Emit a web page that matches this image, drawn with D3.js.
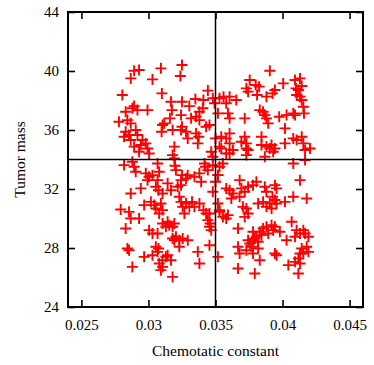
<!DOCTYPE html>
<html>
<head>
<meta charset="utf-8">
<script src="https://cdn.jsdelivr.net/npm/d3@7"></script>
<style>
  body { margin: 0; background: #fff; }
  svg text { font-family: "Liberation Serif", "Times New Roman", serif; fill: #000; }
</style>
</head>
<body>
<div id="chart"></div>
<script>
// chemotactic constant and tumor mass of each run
const chemotaxis = [
  0.02893,0.02930,0.02868,0.03093,0.03030,0.03250,0.03238,0.02805,0.03100,0.03168,
  0.03250,0.03350,0.03443,0.03410,0.03305,0.02830,0.02880,0.02893,0.02993,0.02918,
  0.02780,0.02843,0.02868,0.02830,0.02818,0.02855,0.02868,0.02905,0.02918,0.02893,
  0.02955,0.02943,0.02980,0.03005,0.02993,0.02930,0.03105,0.03118,0.03098,0.03160,
  0.03175,0.03180,0.03193,0.03180,0.03198,0.03243,0.03243,0.03250,0.03280,0.03293,
  0.03318,0.03355,0.03380,0.03380,0.03405,0.03355,0.03375,0.03368,0.03430,0.03455,
  0.03468,0.03480,0.03493,
  0.03905,0.04005,0.03755,0.03730,0.03743,0.03800,0.03825,0.03810,0.03880,0.03925,
  0.03943,0.04093,0.04130,0.04100,0.04118,0.04143,0.04105,0.04130,0.04143,0.04155,
  0.04160,0.03530,0.03560,0.03605,0.03580,0.03655,0.03593,0.03605,0.03718,0.03830,
  0.03855,0.03868,0.03880,0.03893,0.03975,0.04030,0.04080,0.04093,0.04018,0.03543,
  0.03580,0.03605,0.03605,0.03630,0.03693,0.03718,0.03730,0.03730,0.03743,0.03843,
  0.03843,0.03880,0.03905,0.03918,0.03943,0.03930,0.04018,0.04080,0.04105,0.04143,
  0.04155,0.04168,0.04205,0.03530,0.03543,0.03605,0.03580,0.03730,0.03868,0.04080,
  0.04168,0.03518,0.03500,0.03480,
  0.02818,0.02880,0.02893,0.02905,0.02980,0.03005,0.02993,0.03030,0.03068,0.03080,
  0.03068,0.03193,0.03205,0.03143,0.03250,0.03243,0.03280,0.03293,0.03343,0.03380,
  0.03393,0.03418,0.03425,0.03443,0.03480,0.02868,0.02943,0.03055,0.03075,0.03105,
  0.03168,0.03218,0.03243,0.03230,0.03243,0.03255,0.03268,0.03280,0.03305,0.03325,
  0.03343,0.03380,0.03410,0.03430,0.03455,0.03443,0.03460,0.03468,0.03455,0.02793,
  0.02855,0.02868,0.02930,0.02968,0.03018,0.03043,0.03055,0.03093,0.03105,0.03080,
  0.02830,0.03005,0.03030,0.03068,0.03105,0.03130,0.03143,0.03155,0.03180,0.03193,
  0.03055,0.03068,0.03075,0.03080,0.03105,0.03093,0.03105,0.03130,0.03143,0.03168,
  0.03180,0.03193,0.03205,0.03230,0.03255,0.03293,0.03230,0.03180,0.02843,0.02855,
  0.02880,0.02968,0.03030,0.03368,0.03380,0.03455,0.03518,
  0.03518,0.03530,0.03555,0.03580,0.03605,0.03630,0.03618,0.03680,0.03693,0.03718,
  0.03743,0.03805,0.03780,0.03868,0.03880,0.03943,0.03955,0.03925,0.03943,0.03518,
  0.03530,0.03555,0.03580,0.03593,0.03680,0.03705,0.03730,0.03743,0.03718,0.03818,
  0.03855,0.03880,0.03905,0.03918,0.03955,0.04018,0.04080,0.04130,0.04180,0.03668,
  0.03780,0.03805,0.03830,0.03855,0.03880,0.03893,0.03918,0.03930,0.03943,0.03743,
  0.03755,0.03768,0.03780,0.03793,0.03818,0.03843,0.03980,0.04030,0.04068,0.04093,
  0.04105,0.04130,0.04155,0.04168,0.04193,0.04180,0.04193,0.04143,0.04130,0.04118,
  0.04155,0.03668,0.03680,0.03730,0.03780,0.03818,0.03830,0.03668,0.03793,0.03943,
  0.03955,0.04043,0.04093,0.04118,0.04130,
  0.03518,0.03500,0.03480,0.03530
];
const tumorMass = [
  40.02,40.07,39.50,40.18,39.43,40.41,39.66,38.37,38.48,37.92,
  37.92,38.10,38.67,38.03,37.62,37.24,37.47,37.62,37.35,37.35,
  36.56,36.67,36.45,35.88,35.54,35.66,35.32,36.00,35.66,34.87,
  35.32,34.98,35.09,34.41,34.75,34.53,36.34,36.45,35.88,36.79,
  37.35,36.00,34.87,34.30,33.58,37.01,36.00,36.22,35.88,35.43,
  36.79,36.90,37.24,36.67,37.47,35.77,35.54,35.09,36.22,36.34,
  34.53,38.15,37.81,
  40.02,39.16,39.39,38.82,38.60,39.05,38.94,38.37,38.26,38.48,
  38.71,39.39,39.50,38.82,38.71,38.98,38.37,38.26,38.03,37.58,
  37.13,38.15,38.26,38.26,37.81,38.03,37.13,36.79,36.79,37.35,
  37.24,37.01,36.79,36.45,36.90,37.01,37.13,37.01,36.11,35.54,
  35.43,35.77,35.09,34.64,35.20,35.54,35.09,34.75,34.64,35.54,
  34.98,34.87,34.75,34.98,34.75,34.53,35.09,35.43,35.32,35.54,
  35.09,34.64,34.75,34.87,34.75,34.41,34.41,34.30,34.19,33.73,
  33.96,37.13,35.43,34.19,
  33.62,33.85,33.51,33.17,33.06,32.83,32.60,32.94,33.73,33.17,
  32.60,34.07,33.28,32.38,32.94,32.60,32.72,32.94,32.83,33.06,
  32.49,33.73,33.51,33.28,33.62,31.70,32.04,32.15,31.92,31.70,
  31.92,32.15,32.26,31.47,31.13,30.79,30.34,31.02,30.79,31.13,
  30.79,31.02,30.57,30.34,30.34,29.89,29.66,29.21,29.44,30.61,
  30.45,30.00,30.00,30.91,31.13,30.91,30.68,31.02,30.57,30.34,
  29.32,29.21,28.98,28.98,29.66,29.44,29.78,29.55,29.44,29.66,
  28.08,27.74,27.97,26.95,27.17,26.50,26.72,27.40,27.51,27.17,
  28.64,28.53,28.76,28.53,28.64,28.53,28.08,26.04,27.97,27.85,
  26.72,27.40,27.51,27.74,26.95,28.19,27.40,
  32.94,33.51,33.73,32.04,31.92,31.70,31.36,32.60,32.04,31.81,
  32.15,32.49,32.26,32.15,31.81,32.26,32.04,31.47,31.25,31.02,
  30.57,30.11,30.00,30.23,31.47,30.79,30.68,30.34,30.11,31.02,
  31.13,30.79,31.02,30.68,31.02,31.13,31.47,32.60,31.36,29.32,
  29.10,28.76,29.10,29.32,29.44,28.98,29.55,29.21,29.44,28.53,
  28.31,28.08,28.53,28.64,28.42,28.87,29.10,28.53,29.78,28.76,
  29.21,28.98,29.21,28.98,28.76,28.08,27.74,27.97,27.63,27.29,
  27.63,28.08,27.63,27.85,27.63,27.97,27.17,26.61,26.27,27.63,
  27.51,26.84,27.06,26.27,26.95,
  32.94,32.49,31.81,30.45
];
const xTicks = [0.025, 0.03, 0.035, 0.04, 0.045];
const yTicks = [24, 28, 32, 36, 40, 44];
const xRef = 0.035, yRef = 34;

const W = 374, H = 365;
const margin = { left: 68, right: 11, top: 12, bottom: 58 };
const iw = W - margin.left - margin.right;
const ih = H - margin.top - margin.bottom;

const svg = d3.select('#chart').append('svg')
  .attr('width', W).attr('height', H);
const g = svg.append('g')
  .attr('transform', `translate(${margin.left},${margin.top})`);

const x = d3.scaleLinear().domain([0.024, 0.046]).range([0, iw]);
const y = d3.scaleLinear().domain([24, 44]).range([ih, 0]);

const fmt = d => String(d);

// axes, ticks pointing inward on all four sides
const axB = g.append('g').attr('transform', `translate(0,${ih})`)
  .call(d3.axisBottom(x).tickValues(xTicks).tickFormat(fmt).tickSize(-7).tickPadding(12));
const axT = g.append('g')
  .call(d3.axisTop(x).tickValues(xTicks).tickFormat('').tickSize(-7));
const axL = g.append('g')
  .call(d3.axisLeft(y).tickValues(yTicks).tickFormat(fmt).tickSize(-7).tickPadding(9));
const axR = g.append('g').attr('transform', `translate(${iw},0)`)
  .call(d3.axisRight(y).tickValues(yTicks).tickFormat('').tickSize(-7));

[axB, axT, axL, axR].forEach(a => {
  a.select('.domain').remove();
  a.selectAll('line').attr('stroke', '#000').attr('stroke-width', 1.6);
  a.selectAll('text').attr('font-size', 15).attr('font-family', '"Liberation Serif", serif');
});

// points
g.append('g').selectAll('path')
  .data(chemotaxis.map((c, i) => [c, tumorMass[i]]))
  .join('path')
    .attr('transform', d => `translate(${x(d[0])},${y(d[1])})`)
    .attr('d', 'M-5.5,0H5.5M0,-5.5V5.5')
    .attr('stroke', '#ff0000')
    .attr('stroke-width', 1.9)
    .attr('fill', 'none');

// reference lines
g.append('line')
  .attr('x1', x(xRef)).attr('x2', x(xRef)).attr('y1', 0).attr('y2', ih)
  .attr('stroke', '#000').attr('stroke-width', 1.5);
g.append('line')
  .attr('x1', 0).attr('x2', iw).attr('y1', y(yRef)).attr('y2', y(yRef))
  .attr('stroke', '#000').attr('stroke-width', 1.5);

// frame
g.append('rect')
  .attr('width', iw).attr('height', ih)
  .attr('fill', 'none').attr('stroke', '#000').attr('stroke-width', 2);

// axis titles
svg.append('text')
  .attr('x', margin.left + x(0.035)).attr('y', 356)
  .attr('text-anchor', 'middle').attr('font-size', 15.5)
  .text('Chemotatic constant');
svg.append('text')
  .attr('transform', `translate(25,${margin.top + y(34)}) rotate(-90)`)
  .attr('text-anchor', 'middle').attr('font-size', 15.5)
  .text('Tumor mass');
</script>
</body>
</html>
